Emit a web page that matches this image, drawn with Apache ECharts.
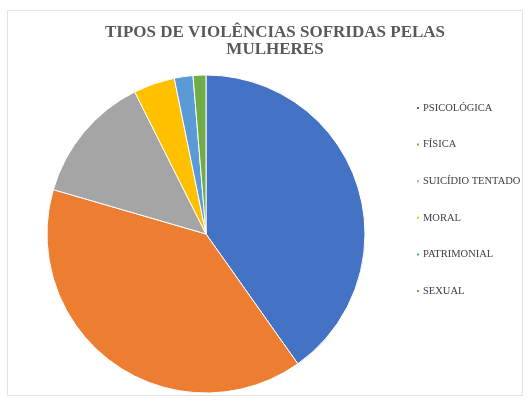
<!DOCTYPE html>
<html>
<head>
<meta charset="utf-8">
<script src="https://cdn.jsdelivr.net/npm/echarts@6/dist/echarts.min.js"></script>
<style>html,body{margin:0;padding:0;background:#fff}#c{width:528px;height:403px}</style>
</head>
<body>
<div id="c"></div>
<script>
var categories = ['PSICOLÓGICA', 'FÍSICA', 'SUICÍDIO TENTADO', 'MORAL', 'PATRIMONIAL', 'SEXUAL'];
var values = [40.2, 39.3, 13.1, 4.2, 1.9, 1.3];
var colors = ['#4472C4', '#ED7D31', '#A5A5A5', '#FFC000', '#5B9BD5', '#70AD47'];

var chart = echarts.init(document.getElementById('c'));
chart.setOption({
  animation: false,
  color: colors,
  graphic: [{
    type: 'rect', shape: {x: 7.5, y: 10.5, width: 515, height: 385},
    style: {fill: 'none', stroke: '#e3e3e3', lineWidth: 1}, silent: true
  }],
  title: {
    text: 'TIPOS DE VIOLÊNCIAS SOFRIDAS PELAS\nMULHERES',
    left: 270, textAlign: 'center', top: 19,
    textStyle: {fontFamily: 'Liberation Serif', fontWeight: 'bold', fontSize: 17, color: '#595959', lineHeight: 17}
  },
  legend: {
    orient: 'vertical', left: 410, top: 97,
    itemWidth: 4, itemHeight: 4, itemGap: 24.6,
    icon: 'rect',
    textStyle: {fontFamily: 'Liberation Serif', fontSize: 10.5, color: '#404040', lineHeight: 12, padding: [0, 0, 0, -2]},
    data: categories
  },
  series: [{
    type: 'pie',
    center: [206, 234], radius: 159,
    startAngle: 90, clockwise: true,
    label: {show: false}, labelLine: {show: false},
    itemStyle: {borderColor: '#fff', borderWidth: 1},
    data: categories.map(function (c, i) { return {name: c, value: values[i]}; })
  }]
});
</script>
</body>
</html>
